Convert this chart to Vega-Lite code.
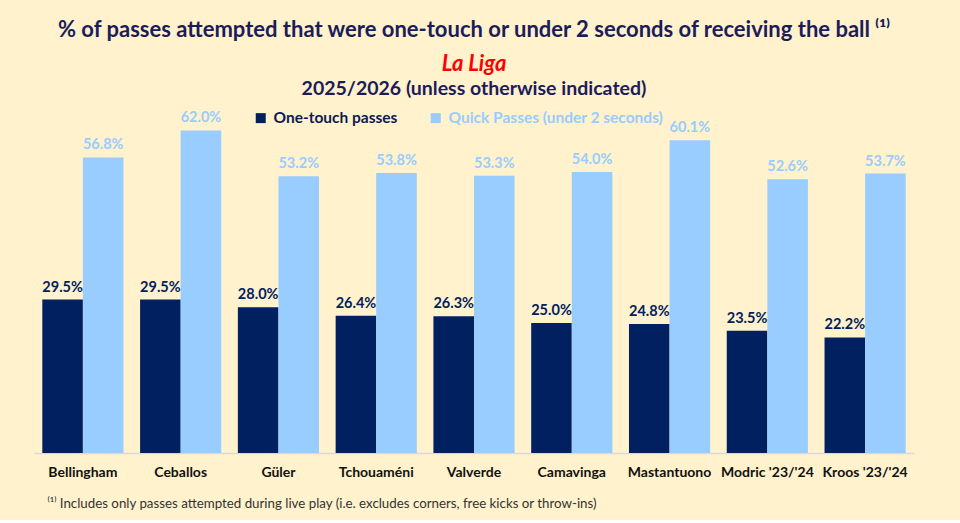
{
  "$schema": "https://vega.github.io/schema/vega-lite/v6.json",
  "background": "#FFF2CC",
  "padding": {"left": 34, "right": 46, "top": 18, "bottom": 10},
  "title": {
    "text": "% of passes attempted that were one-touch or under 2 seconds of receiving the ball ⁽¹⁾",
    "subtitle": "La Liga",
    "anchor": "middle",
    "frame": "group",
    "font": "Lato",
    "fontSize": 22,
    "fontWeight": "bold",
    "color": "#1c1c5a",
    "subtitleFont": "Lato",
    "subtitleFontSize": 22,
    "subtitleFontWeight": "bold",
    "subtitleFontStyle": "italic",
    "subtitleColor": "#FF0000",
    "subtitlePadding": 12,
    "offset": 3
  },
  "config": {
    "view": {"stroke": null},
    "font": "Lato"
  },
  "vconcat": [
    {
      "width": 880,
      "height": 346,
      "title": {
        "text": "2025/2026 (unless otherwise indicated)",
        "font": "Lato",
        "fontSize": 19.5,
        "fontWeight": "bold",
        "color": "#1c1c5a",
        "anchor": "middle",
        "offset": 8
      },
      "data": {
        "values": [
          {"player": "Bellingham", "metric": "One-touch passes", "value": 0.295},
          {"player": "Bellingham", "metric": "Quick Passes (under 2 seconds)", "value": 0.568},
          {"player": "Ceballos", "metric": "One-touch passes", "value": 0.295},
          {"player": "Ceballos", "metric": "Quick Passes (under 2 seconds)", "value": 0.620},
          {"player": "Güler", "metric": "One-touch passes", "value": 0.280},
          {"player": "Güler", "metric": "Quick Passes (under 2 seconds)", "value": 0.532},
          {"player": "Tchouaméni", "metric": "One-touch passes", "value": 0.264},
          {"player": "Tchouaméni", "metric": "Quick Passes (under 2 seconds)", "value": 0.538},
          {"player": "Valverde", "metric": "One-touch passes", "value": 0.263},
          {"player": "Valverde", "metric": "Quick Passes (under 2 seconds)", "value": 0.533},
          {"player": "Camavinga", "metric": "One-touch passes", "value": 0.250},
          {"player": "Camavinga", "metric": "Quick Passes (under 2 seconds)", "value": 0.540},
          {"player": "Mastantuono", "metric": "One-touch passes", "value": 0.248},
          {"player": "Mastantuono", "metric": "Quick Passes (under 2 seconds)", "value": 0.601},
          {"player": "Modric '23/'24", "metric": "One-touch passes", "value": 0.235},
          {"player": "Modric '23/'24", "metric": "Quick Passes (under 2 seconds)", "value": 0.526},
          {"player": "Kroos '23/'24", "metric": "One-touch passes", "value": 0.222},
          {"player": "Kroos '23/'24", "metric": "Quick Passes (under 2 seconds)", "value": 0.537}
        ]
      },
      "encoding": {
        "x": {
          "field": "player",
          "type": "nominal",
          "sort": null,
          "scale": {"paddingInner": 0.17, "paddingOuter": 0.085},
          "axis": {
            "title": "⁽¹⁾ Includes only passes attempted during live play (i.e. excludes corners, free kicks or throw-ins)",
            "titleFont": "Lato",
            "titleFontSize": 13.3,
            "titleFontWeight": "normal",
            "titleColor": "#333333",
            "titleAnchor": "start",
            "titleAlign": "left",
            "titleX": 13,
            "titlePadding": 17,
            "labelAngle": 0,
            "labelFont": "Lato",
            "labelFontSize": 14,
            "labelFontWeight": "bold",
            "labelColor": "#111111",
            "labelPadding": 12,
            "ticks": false,
            "domainColor": "#D9D9D9",
            "domainWidth": 1.5
          }
        },
        "xOffset": {"field": "metric", "type": "nominal", "scale": {"paddingInner": 0}},
        "y": {
          "field": "value",
          "type": "quantitative",
          "scale": {"domain": [0, 0.665]},
          "axis": null
        },
        "color": {
          "field": "metric",
          "type": "nominal",
          "scale": {
            "domain": ["One-touch passes", "Quick Passes (under 2 seconds)"],
            "range": ["#002060", "#99CCFF"]
          },
          "legend": {
            "title": null,
            "orient": "none",
            "direction": "horizontal",
            "legendX": 219,
            "legendY": 3,
            "padding": 0,
            "symbolType": "square",
            "symbolSize": 100,
            "symbolOpacity": 1,
            "symbolStrokeWidth": 0,
            "labelFont": "Lato",
            "labelFontSize": 15.5,
            "labelFontWeight": "bold",
            "labelOffset": 5,
            "labelLimit": 400,
            "columnPadding": 30,
            "encode": {
              "labels": {
                "update": {
                  "fill": {"signal": "datum.label === 'One-touch passes' ? '#0B1A57' : '#99CCFF'"}
                }
              }
            }
          }
        }
      },
      "layer": [
        {"mark": {"type": "bar"}},
        {
          "mark": {
            "type": "text",
            "baseline": "bottom",
            "dy": -5,
            "font": "Lato",
            "fontSize": 14.5,
            "fontWeight": "bold"
          },
          "encoding": {
            "text": {"field": "value", "type": "quantitative", "format": ".1%"},
            "color": {
              "field": "metric",
              "type": "nominal",
              "scale": {
                "domain": ["One-touch passes", "Quick Passes (under 2 seconds)"],
                "range": ["#0B1A57", "#99CCFF"]
              },
              "legend": null
            }
          }
        }
      ]
    }
  ]
}
